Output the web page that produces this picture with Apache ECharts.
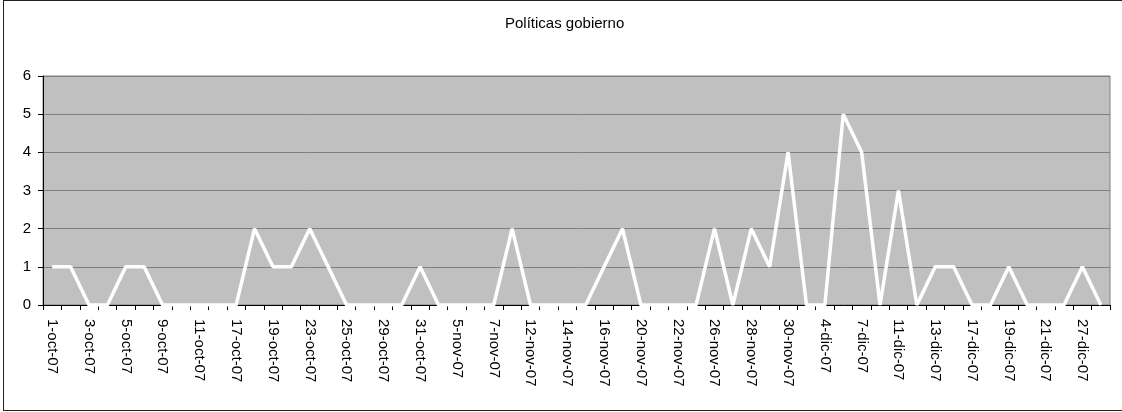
<!DOCTYPE html>
<html>
<head>
<meta charset="utf-8">
<script src="https://cdn.jsdelivr.net/npm/echarts@6/dist/echarts.min.js"></script>
<style>
  body { margin: 0; background: #fff; }
  #chart { width: 1122px; height: 412px; }
  .frame {
    position: absolute; left: 3px; top: 0; width: 1130px; height: 409px;
    border: 1px solid #222; pointer-events: none;
  }
</style>
</head>
<body>
<div id="chart"></div>
<div class="frame"></div>
<script>
// weekday dates, every other one is labelled on the axis
const dates = [
  '1-oct-07', '2-oct-07', '3-oct-07', '4-oct-07', '5-oct-07', '8-oct-07',
  '9-oct-07', '10-oct-07', '11-oct-07', '16-oct-07', '17-oct-07', '18-oct-07',
  '19-oct-07', '22-oct-07', '23-oct-07', '24-oct-07', '25-oct-07', '26-oct-07',
  '29-oct-07', '30-oct-07', '31-oct-07', '2-nov-07', '5-nov-07', '6-nov-07',
  '7-nov-07', '9-nov-07', '12-nov-07', '13-nov-07', '14-nov-07', '15-nov-07',
  '16-nov-07', '19-nov-07', '20-nov-07', '21-nov-07', '22-nov-07', '23-nov-07',
  '26-nov-07', '27-nov-07', '28-nov-07', '29-nov-07', '30-nov-07', '3-dic-07',
  '4-dic-07', '5-dic-07', '7-dic-07', '10-dic-07', '11-dic-07', '12-dic-07',
  '13-dic-07', '14-dic-07', '17-dic-07', '18-dic-07', '19-dic-07', '20-dic-07',
  '21-dic-07', '26-dic-07', '27-dic-07', '28-dic-07'
]

const counts = [
  1, 1, 0, 0, 1, 1, 0, 0, 0, 0, 0, 2, 1, 1, 2, 1, 0, 0,
  0, 0, 1, 0, 0, 0, 0, 2, 0, 0, 0, 0, 1, 2, 0, 0, 0, 0,
  2, 0, 2, 1, 4, 0, 0, 5, 4, 0, 3, 0, 1, 1, 0, 0, 1, 0,
  0, 0, 1, 0
]

const chart = echarts.init(document.getElementById('chart'))

chart.setOption({
  animation: false,
  textStyle: { fontFamily: 'Liberation Sans, Arial, sans-serif' },
  title: {
    text: 'Políticas gobierno',
    left: 500,
    top: 11,
    textStyle: { fontSize: 15, fontWeight: 'normal', color: '#000' }
  },
  grid: {
    left: 43,
    top: 76,
    right: 12,
    bottom: 107,
    show: true,
    backgroundColor: '#c0c0c0',
    borderColor: '#808080',
    borderWidth: 1
  },
  xAxis: {
    type: 'category',
    data: dates,
    boundaryGap: true,
    axisLine: { lineStyle: { color: '#000', width: 1 } },
    axisTick: { show: true, interval: 0, length: 5, lineStyle: { color: '#000' } },
    axisLabel: {
      interval: 1,
      rotate: -90,
      color: '#000',
      fontSize: 15,
      margin: 14
    },
    splitLine: { show: false }
  },
  yAxis: {
    type: 'value',
    min: 0,
    max: 6,
    interval: 1,
    axisLine: { show: true, lineStyle: { color: '#000', width: 1 } },
    axisTick: { show: true, length: 5, lineStyle: { color: '#000' } },
    axisLabel: { color: '#000', fontSize: 15, margin: 12 },
    splitLine: { lineStyle: { color: '#808080', width: 1 } }
  },
  series: [
    {
      name: 'Políticas gobierno',
      type: 'line',
      data: counts,
      showSymbol: false,
      lineStyle: { color: '#fff', width: 3.5 },
      itemStyle: { color: '#fff' }
    }
  ]
})
</script>
</body>
</html>
